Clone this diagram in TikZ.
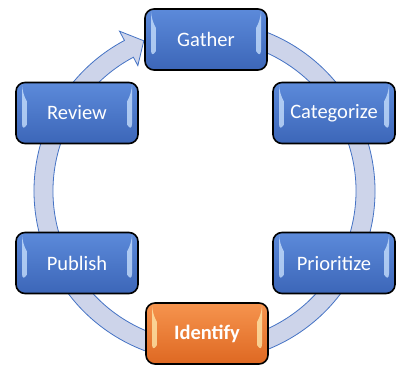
\documentclass[tikz,border=0pt]{standalone}
\usepackage{fontspec}
\setmainfont{Carlito}
\usepackage{tikz}

\definecolor{ringfill}{RGB}{205,212,234}
\definecolor{ringline}{RGB}{68,114,196}
\definecolor{bluetop}{RGB}{92,138,218}
\definecolor{bluebot}{RGB}{60,102,184}
\definecolor{bluegl}{RGB}{205,228,255}
\definecolor{orgtop}{RGB}{246,148,78}
\definecolor{orgbot}{RGB}{222,104,34}
\definecolor{orggl}{RGB}{255,236,176}

\tikzset{
  glint/.style={fill=#1, opacity=0.75},
  stage/.style={rounded corners=9pt, minimum width=122pt, minimum height=61pt,
    inner sep=0pt, draw=black, line width=1.6pt, text=white,
    top color=bluetop, bottom color=bluebot,
    font=\fontsize{20.5}{24}\selectfont,
    path picture={
      \fill[glint=bluegl] ([xshift=6pt,yshift=-11pt]path picture bounding box.north west)
        -- ([xshift=6pt,yshift=11pt]path picture bounding box.south west)
        .. controls +(5pt,8pt) and +(5pt,-8pt) .. cycle;
      \fill[glint=bluegl] ([xshift=-6pt,yshift=-11pt]path picture bounding box.north east)
        -- ([xshift=-6pt,yshift=11pt]path picture bounding box.south east)
        .. controls +(-5pt,8pt) and +(-5pt,-8pt) .. cycle;
    }},
  hotstage/.style={stage, top color=orgtop, bottom color=orgbot,
    font=\fontsize{20.5}{24}\selectfont\bfseries,
    path picture={
      \fill[glint=orggl] ([xshift=6pt,yshift=-11pt]path picture bounding box.north west)
        -- ([xshift=6pt,yshift=11pt]path picture bounding box.south west)
        .. controls +(5pt,8pt) and +(5pt,-8pt) .. cycle;
      \fill[glint=orggl] ([xshift=-6pt,yshift=-11pt]path picture bounding box.north east)
        -- ([xshift=-6pt,yshift=11pt]path picture bounding box.south east)
        .. controls +(-5pt,8pt) and +(-5pt,-8pt) .. cycle;
    }},
  cyclering/.style={fill=ringfill, draw=ringline, line width=0.8pt, line join=miter},
}

\begin{document}
\begin{tikzpicture}[x=1pt, y=1pt]
\useasboundingbox (0,0) rectangle (401,366);

% ring behind the stages
\begin{scope}[shift={(204.5,175)}]
\filldraw[cyclering] (100:170.5) arc[start angle=100, end angle=-242, radius=170.5]
  -- (-242:181) -- (-248:162) -- (-242:142) -- (-242:151.5)
  arc[start angle=-242, end angle=100, radius=151.5] -- cycle;
\end{scope}

% stages
\node[stage] (gather) at (206,326.5) {Gather};
\node[stage] (categorize) at (334,253) {Categorize};
\node[stage] (prioritize) at (334,103) {Prioritize};
\node[hotstage] (identify) at (207,32.5) {Identify};
\node[stage] (publish) at (77,103) {Publish};
\node[stage] (review) at (77,253) {Review};
\end{tikzpicture}
\end{document}
